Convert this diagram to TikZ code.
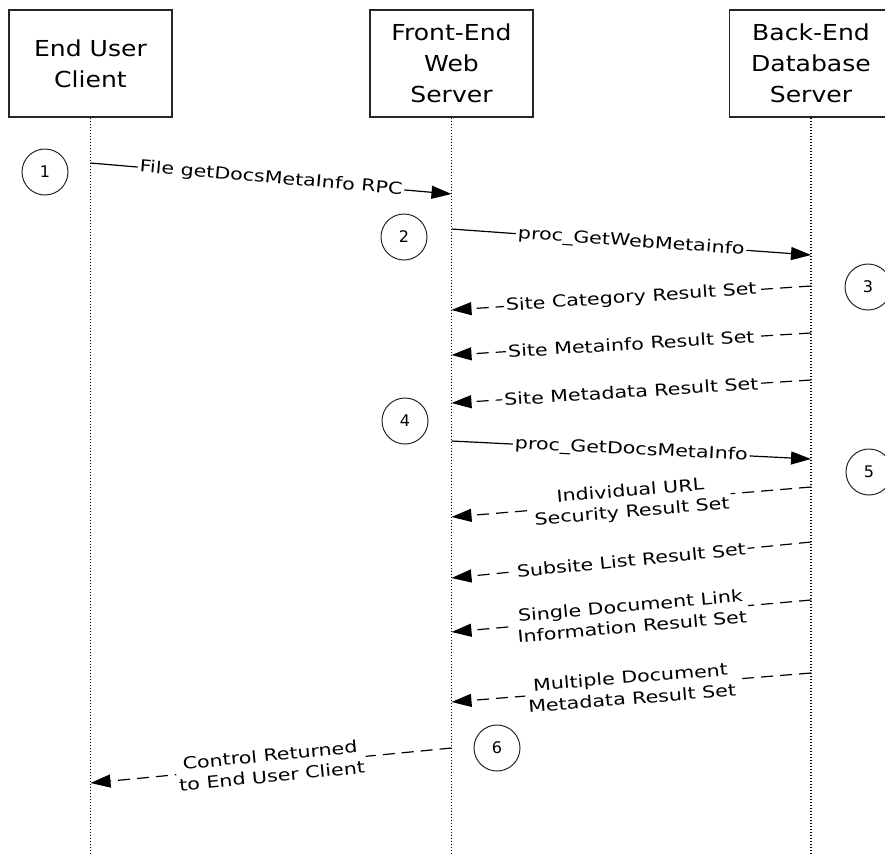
\documentclass[tikz,border=0pt]{standalone}
\usepackage{fontspec}
\setmainfont{DejaVu Sans}
\newfontfamily\boxfont{DejaVu Sans}[FakeStretch=1.14]
\newfontfamily\lblfont{DejaVu Sans}[FakeStretch=1.25]
\usetikzlibrary{arrows.meta}
\begin{document}
\begin{tikzpicture}[x=1pt,y=-1pt,
  actor/.style={draw=black!85, line width=1.3pt, minimum width=163pt, minimum height=107pt, inner sep=0pt, align=center, font=\boxfont\fontsize{22}{31}\selectfont},
  life/.style={line width=1.1pt, dash pattern=on 1.5pt off 1.5pt},
  stepnum/.style={circle, draw=black!85, line width=1pt, minimum size=46pt, inner sep=0pt, font=\fontsize{16}{16}\selectfont},
  call/.style={line width=1.2pt, -{Triangle[length=20pt,width=13pt]}},
  reply/.style={call, dash pattern=on 12pt off 7pt},
  lbl/.style={fill=white, sloped, inner sep=2pt, align=center, font=\lblfont\fontsize{16.5}{21}\selectfont},
]
\useasboundingbox (0,0) rectangle (885,854);
\clip (0,0) rectangle (885,854);

% actors
\node[actor] (eu) at (90.5,63.5) {End User\\Client};
\node[actor] (fe) at (451.5,63.5) {Front-End\\Web\\Server};
\node[actor] (be) at (811,63.5) {Back-End\\Database\\Server};

% lifelines
\coordinate (eubot) at (90.5,854);
\coordinate (febot) at (451.5,854);
\coordinate (bebot) at (811,854);
\draw[life] (eu.south) -- (eubot);
\draw[life] (fe.south) -- (febot);
\draw[life] (be.south) -- (bebot);

% step circles
\node[stepnum] (s1) at (45,172) {1};
\node[stepnum] (s2) at (404,237) {2};
\node[stepnum] (s3) at (868,287) {3};
\node[stepnum] (s4) at (405,421) {4};
\node[stepnum] (s5) at (869,472) {5};
\node[stepnum] (s6) at (497,748) {6};

% message end points
\coordinate (m1a) at (90.5,163);  \coordinate (m1b) at (451.5,194);
\coordinate (m2a) at (451.5,229); \coordinate (m2b) at (811,255);
\coordinate (m3a) at (811,286);   \coordinate (m3b) at (451.5,310);
\coordinate (m4a) at (811,333);   \coordinate (m4b) at (451.5,355);
\coordinate (m5a) at (811,380);   \coordinate (m5b) at (451.5,403);
\coordinate (m6a) at (451.5,441); \coordinate (m6b) at (811,459);
\coordinate (m7a) at (811,487);   \coordinate (m7b) at (451.5,517);
\coordinate (m8a) at (811,542);   \coordinate (m8b) at (451.5,578);
\coordinate (m9a) at (811,600);   \coordinate (m9b) at (451.5,632);
\coordinate (m10a) at (811,673);  \coordinate (m10b) at (451.5,702);
\coordinate (m11a) at (451.5,748); \coordinate (m11b) at (90.5,783);

% messages
\draw[call] (m1a) -- node[lbl] {File getDocsMetaInfo RPC} (m1b);
\draw[call] (m2a) -- node[lbl] {proc\_GetWebMetainfo} (m2b);
\draw[reply] (m3a) -- node[lbl] {Site Category Result Set} (m3b);
\draw[reply] (m4a) -- node[lbl] {Site Metainfo Result Set} (m4b);
\draw[reply] (m5a) -- node[lbl] {Site Metadata Result Set} (m5b);
\draw[call] (m6a) -- node[lbl] {proc\_GetDocsMetaInfo} (m6b);
\draw[reply] (m7a) -- node[lbl] {Individual URL\\Security Result Set} (m7b);
\draw[reply] (m8a) -- node[lbl] {Subsite List Result Set} (m8b);
\draw[reply] (m9a) -- node[lbl] {Single Document Link\\Information Result Set} (m9b);
\draw[reply] (m10a) -- node[lbl] {Multiple Document\\Metadata Result Set} (m10b);
\draw[reply] (m11a) -- node[lbl] {Control Returned\\to End User Client} (m11b);
\end{tikzpicture}
\end{document}
